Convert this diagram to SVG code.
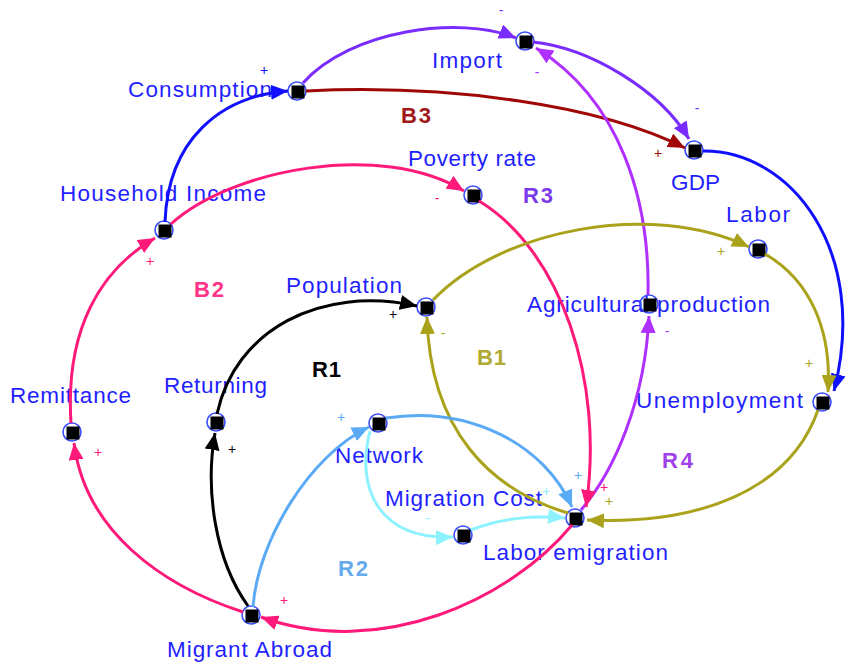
<svg xmlns="http://www.w3.org/2000/svg" width="856" height="665" viewBox="0 0 856 665">
  <style>
    .lbl { font-family: "Liberation Sans", Arial, sans-serif; font-size: 22.5px; fill: #1f1fff; }
    .loop { font-family: "Liberation Sans", Arial, sans-serif; font-size: 22px; font-weight: bold; }
    .sg { font-family: "Liberation Sans", Arial, sans-serif; font-size: 14px; text-anchor: middle; }
    .ring { fill: none; stroke: #3a4dff; stroke-width: 1.6; }
    .box { fill: #000; }
    .e { fill: none; stroke-width: 3; }
    .blue { stroke: #1010ff; }
    .violet { stroke: #7a2cff; }
    .maroon { stroke: #a00808; }
    .purple { stroke: #b030ff; }
    .pink { stroke: #ff1a7a; }
    .black { stroke: #000; }
    .olive { stroke: #aaa21a; }
    .sky { stroke: #5aaaf5; }
    .cyan { stroke: #8cf2ff; }
  </style>
  <defs>
    <marker id="ah-blue" viewBox="0 0 17 15" refX="17" refY="7.5" markerWidth="17" markerHeight="15" markerUnits="userSpaceOnUse" orient="auto"><path d="M0,0 L17,7.5 L0,15 z" fill="#1010ff"/></marker>
    <marker id="ah-violet" viewBox="0 0 17 15" refX="17" refY="7.5" markerWidth="17" markerHeight="15" markerUnits="userSpaceOnUse" orient="auto"><path d="M0,0 L17,7.5 L0,15 z" fill="#7a2cff"/></marker>
    <marker id="ah-maroon" viewBox="0 0 17 15" refX="17" refY="7.5" markerWidth="17" markerHeight="15" markerUnits="userSpaceOnUse" orient="auto"><path d="M0,0 L17,7.5 L0,15 z" fill="#a00808"/></marker>
    <marker id="ah-purple" viewBox="0 0 17 15" refX="17" refY="7.5" markerWidth="17" markerHeight="15" markerUnits="userSpaceOnUse" orient="auto"><path d="M0,0 L17,7.5 L0,15 z" fill="#b030ff"/></marker>
    <marker id="ah-pink" viewBox="0 0 17 15" refX="17" refY="7.5" markerWidth="17" markerHeight="15" markerUnits="userSpaceOnUse" orient="auto"><path d="M0,0 L17,7.5 L0,15 z" fill="#ff1a7a"/></marker>
    <marker id="ah-black" viewBox="0 0 17 15" refX="17" refY="7.5" markerWidth="17" markerHeight="15" markerUnits="userSpaceOnUse" orient="auto"><path d="M0,0 L17,7.5 L0,15 z" fill="#000"/></marker>
    <marker id="ah-olive" viewBox="0 0 17 15" refX="17" refY="7.5" markerWidth="17" markerHeight="15" markerUnits="userSpaceOnUse" orient="auto"><path d="M0,0 L17,7.5 L0,15 z" fill="#aaa21a"/></marker>
    <marker id="ah-sky" viewBox="0 0 17 15" refX="17" refY="7.5" markerWidth="17" markerHeight="15" markerUnits="userSpaceOnUse" orient="auto"><path d="M0,0 L17,7.5 L0,15 z" fill="#5aaaf5"/></marker>
    <marker id="ah-cyan" viewBox="0 0 17 15" refX="17" refY="7.5" markerWidth="17" markerHeight="15" markerUnits="userSpaceOnUse" orient="auto"><path d="M0,0 L17,7.5 L0,15 z" fill="#8cf2ff"/></marker>
  </defs>

  <rect width="856" height="665" fill="#fff"/>

  <!-- variables: label, ring and square handle -->
  <g id="consumption">
    <text class="lbl" x="128" y="97" textLength="144" lengthAdjust="spacing">Consumption</text>
    <circle class="ring" cx="297" cy="91" r="9"/><rect class="box" x="291.5" y="85.5" width="13" height="13"/>
  </g>
  <g id="import">
    <text class="lbl" x="432" y="68" textLength="70" lengthAdjust="spacing">Import</text>
    <circle class="ring" cx="525" cy="41" r="9"/><rect class="box" x="519.5" y="35.5" width="13" height="13"/>
  </g>
  <g id="gdp">
    <text class="lbl" x="671" y="190" textLength="49" lengthAdjust="spacing">GDP</text>
    <circle class="ring" cx="694" cy="150" r="9"/><rect class="box" x="688.5" y="144.5" width="13" height="13"/>
  </g>
  <g id="poverty-rate">
    <text class="lbl" x="408" y="166" textLength="128" lengthAdjust="spacing">Poverty rate</text>
    <circle class="ring" cx="473" cy="195" r="9"/><rect class="box" x="467.5" y="189.5" width="13" height="13"/>
  </g>
  <g id="household-income">
    <text class="lbl" x="60" y="201" textLength="206" lengthAdjust="spacing">Household Income</text>
    <circle class="ring" cx="164" cy="230" r="9"/><rect class="box" x="158.5" y="224.5" width="13" height="13"/>
  </g>
  <g id="labor">
    <text class="lbl" x="726" y="222" textLength="64" lengthAdjust="spacing">Labor</text>
    <circle class="ring" cx="758" cy="249" r="9"/><rect class="box" x="752.5" y="243.5" width="13" height="13"/>
  </g>
  <g id="population">
    <text class="lbl" x="286" y="293" textLength="116" lengthAdjust="spacing">Population</text>
    <circle class="ring" cx="426" cy="307" r="9"/><rect class="box" x="420.5" y="301.5" width="13" height="13"/>
  </g>
  <g id="agricultural-production">
    <text class="lbl" x="527" y="312" textLength="243" lengthAdjust="spacing">Agricultural production</text>
    <circle class="ring" cx="649" cy="304" r="9"/><rect class="box" x="643.5" y="298.5" width="13" height="13"/>
  </g>
  <g id="returning">
    <text class="lbl" x="164" y="393" textLength="103" lengthAdjust="spacing">Returning</text>
    <circle class="ring" cx="216" cy="422" r="9"/><rect class="box" x="210.5" y="416.5" width="13" height="13"/>
  </g>
  <g id="remittance">
    <text class="lbl" x="10" y="403" textLength="121" lengthAdjust="spacing">Remittance</text>
    <circle class="ring" cx="72" cy="432" r="9"/><rect class="box" x="66.5" y="426.5" width="13" height="13"/>
  </g>
  <g id="unemployment">
    <text class="lbl" x="636" y="408" textLength="167" lengthAdjust="spacing">Unemployment</text>
    <circle class="ring" cx="822" cy="402" r="9"/><rect class="box" x="816.5" y="396.5" width="13" height="13"/>
  </g>
  <g id="network">
    <text class="lbl" x="335" y="463" textLength="88" lengthAdjust="spacing">Network</text>
    <circle class="ring" cx="378" cy="423" r="9"/><rect class="box" x="372.5" y="417.5" width="13" height="13"/>
  </g>
  <g id="migration-cost">
    <text class="lbl" x="385" y="506" textLength="157" lengthAdjust="spacing">Migration Cost</text>
    <circle class="ring" cx="463" cy="535" r="9"/><rect class="box" x="457.5" y="529.5" width="13" height="13"/>
  </g>
  <g id="labor-emigration">
    <text class="lbl" x="483" y="560" textLength="185" lengthAdjust="spacing">Labor emigration</text>
    <circle class="ring" cx="575" cy="518" r="9"/><rect class="box" x="569.5" y="512.5" width="13" height="13"/>
  </g>
  <g id="migrant-abroad">
    <text class="lbl" x="167" y="657" textLength="165" lengthAdjust="spacing">Migrant Abroad</text>
    <circle class="ring" cx="251" cy="615" r="9"/><rect class="box" x="245.5" y="609.5" width="13" height="13"/>
  </g>

  <!-- causal links -->
  <g id="links">
    <path class="e blue" d="M165,222 C168,140 220,96 288,91" marker-end="url(#ah-blue)"/>
    <path class="e violet" d="M303,83 C350,30 460,15 516,38" marker-end="url(#ah-violet)"/>
    <path class="e maroon" d="M306,91 C450,84 600,105 685,148" marker-end="url(#ah-maroon)"/>
    <path class="e violet" d="M533,42 C590,48 660,90 689,139" marker-end="url(#ah-violet)"/>
    <path class="e blue" d="M703,151 C790,150 870,250 834,391" marker-end="url(#ah-blue)"/>
    <path class="e purple" d="M648,295 C650,200 620,100 536,48" marker-end="url(#ah-purple)"/>
    <path class="e purple" d="M581,510 C615,470 645,400 649,316" marker-end="url(#ah-purple)"/>
    <path class="e pink" d="M71,423 C65,330 100,270 155,238" marker-end="url(#ah-pink)"/>
    <path class="e pink" d="M171,224 C230,170 380,140 464,191" marker-end="url(#ah-pink)"/>
    <path class="e pink" d="M479,201 C560,250 605,380 586,507" marker-end="url(#ah-pink)"/>
    <path class="e pink" d="M572,525 C510,600 380,660 261,617" marker-end="url(#ah-pink)"/>
    <path class="e pink" d="M243,612 C160,585 85,530 74,443" marker-end="url(#ah-pink)"/>
    <path class="e black" d="M248,606 C215,560 205,490 215,433" marker-end="url(#ah-black)"/>
    <path class="e black" d="M217,414 C235,330 320,285 417,306" marker-end="url(#ah-black)"/>
    <path class="e olive" d="M433,300 C500,230 650,200 749,247" marker-end="url(#ah-olive)"/>
    <path class="e olive" d="M765,254 C810,280 832,330 828,392" marker-end="url(#ah-olive)"/>
    <path class="e olive" d="M818,410 C790,490 700,525 587,520" marker-end="url(#ah-olive)"/>
    <path class="e olive" d="M568,513 C490,490 430,430 427,317" marker-end="url(#ah-olive)"/>
    <path class="e sky" d="M253,607 C258,540 310,455 369,427" marker-end="url(#ah-sky)"/>
    <path class="e sky" d="M386,418 C470,405 545,445 572,507" marker-end="url(#ah-sky)"/>
    <path class="e cyan" d="M370,431 C355,490 380,540 453,537" marker-end="url(#ah-cyan)"/>
    <path class="e cyan" d="M471,530 C500,518 535,515 565,518" marker-end="url(#ah-cyan)"/>

    <!-- polarity marks -->
    <text class="sg" x="264" y="75" fill="#1010ff">+</text>
    <text class="sg" x="501" y="15" fill="#7a2cff">-</text>
    <text class="sg" x="537" y="77" fill="#b030ff">-</text>
    <text class="sg" x="697" y="113" fill="#7a2cff">-</text>
    <text class="sg" x="658" y="158" fill="#a00808">+</text>
    <text class="sg" x="437" y="203" fill="#ff1a7a">-</text>
    <text class="sg" x="150" y="266" fill="#ff1a7a">+</text>
    <text class="sg" x="721" y="256" fill="#aaa21a">+</text>
    <text class="sg" x="443" y="338" fill="#aaa21a">-</text>
    <text class="sg" x="667" y="336" fill="#b030ff">-</text>
    <text class="sg" x="393" y="319" fill="#000">+</text>
    <text class="sg" x="232" y="454" fill="#000">+</text>
    <text class="sg" x="98" y="457" fill="#ff1a7a">+</text>
    <text class="sg" x="284" y="605" fill="#ff1a7a">+</text>
    <text class="sg" x="341" y="422" fill="#5aaaf5">+</text>
    <text class="sg" x="809" y="368" fill="#aaa21a">+</text>
    <text class="sg" x="578" y="480" fill="#5aaaf5">+</text>
    <text class="sg" x="546" y="496" fill="#8cf2ff">+</text>
    <text class="sg" x="604" y="492" fill="#ff1a7a">+</text>
    <text class="sg" x="609" y="506" fill="#aaa21a">+</text>
    <text class="sg" x="428" y="523" fill="#8cf2ff">-</text>
  </g>

  <!-- loop identifiers -->
  <g id="loops">
    <text class="loop" x="401" y="123" fill="#a01818" textLength="30" lengthAdjust="spacing">B3</text>
    <text class="loop" x="523" y="203" fill="#7a3ae8" textLength="30" lengthAdjust="spacing">R3</text>
    <text class="loop" x="194" y="297" fill="#ff3388" textLength="30" lengthAdjust="spacing">B2</text>
    <text class="loop" x="312" y="377" fill="#000" textLength="29" lengthAdjust="spacing">R1</text>
    <text class="loop" x="477" y="365" fill="#b0aa30" textLength="29" lengthAdjust="spacing">B1</text>
    <text class="loop" x="338" y="576" fill="#66aaee" textLength="30" lengthAdjust="spacing">R2</text>
    <text class="loop" x="662" y="468" fill="#a040e8" textLength="31" lengthAdjust="spacing">R4</text>
  </g>
</svg>
